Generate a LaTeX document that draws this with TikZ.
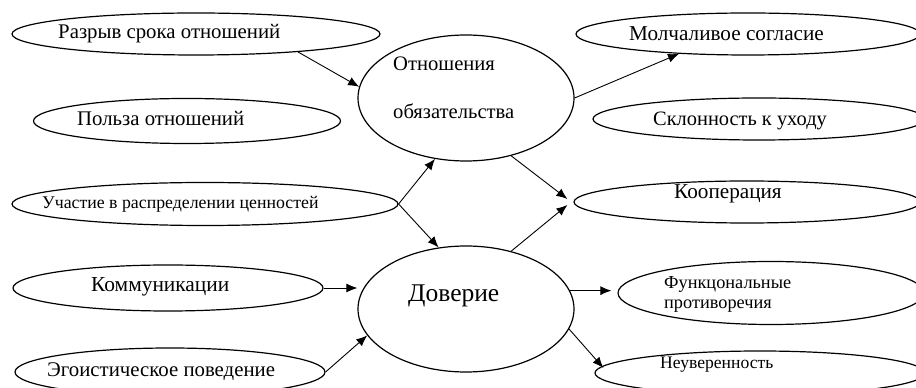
\documentclass[tikz,border=0pt]{standalone}
\usepackage{fontspec}
\setmainfont{Liberation Serif}
\usetikzlibrary{shapes.geometric,arrows.meta,calc}
\tikzset{
  oval/.style={draw, ellipse, line width=1.2pt, inner sep=0pt},
  lbl/.style={anchor=west, inner sep=0pt, text depth=0pt, text height=1.4ex},
  arr/.style={line width=0.9pt, -{Latex[length=11pt,width=9pt]}},
}
\newcommand{\fs}[1]{\fontsize{#1}{#1}\selectfont}
\begin{document}
\begin{tikzpicture}[x=1pt,y=1pt]
\useasboundingbox (0,0) rectangle (916,388);
% ellipses
\node[oval, minimum width=368, minimum height=42] (raz) at (196,354) {};
\node[oval, minimum width=307, minimum height=45] (pol) at (187,267) {};
\node[oval, minimum width=386, minimum height=43] (uch) at (205,184) {};
\node[oval, minimum width=310, minimum height=46] (kom) at (168,100) {};
\node[oval, minimum width=310, minimum height=48] (ego) at (170,16) {};
\node[oval, minimum width=216, minimum height=126] (obl) at (466,290) {};
\node[oval, minimum width=216, minimum height=126] (dov) at (466,79) {};
\node[oval, minimum width=344, minimum height=42] (mol) at (748,354) {};
\node[oval, minimum width=332, minimum height=42] (skl) at (759,269) {};
\node[oval, minimum width=346, minimum height=42] (koo) at (747,186) {};
\node[oval, minimum width=306, minimum height=63] (fun) at (771,95) {};
\node[oval, minimum width=330, minimum height=44] (neu) at (760,15) {};
% labels
\node[lbl, font=\fs{20.8}] (traz) at (58,353) {Разрыв срока отношений};
\node[lbl, font=\fs{20.8}] (tpol) at (77,266) {Польза отношений};
\node[lbl, font=\fs{17.8}] (tuch) at (42,183) {Участие в распределении ценностей};
\node[lbl, font=\fs{21.4}] (tkom) at (91,100) {Коммуникации};
\node[lbl, font=\fs{20.8}] (tego) at (47,15) {Эгоистическое поведение};
\node[lbl, font=\fs{20.6}] (tobl1) at (393,321) {Отношения};
\node[lbl, font=\fs{20.6}] (tobl2) at (393,273) {обязательства};
\node[lbl, font=\fs{25.5}] (tdov) at (408,90) {Доверие};
\node[lbl, font=\fs{21.2}] (tmol) at (629,351) {Молчаливое согласие};
\node[lbl, font=\fs{20.4}] (tskl) at (653,266) {Склонность к уходу};
\node[lbl, font=\fs{21.2}] (tkoo) at (674,193) {Кооперация};
\node[lbl, font=\fs{18.3}] (tfun1) at (664,103) {Функцональные};
\node[lbl, font=\fs{18.3}] (tfun2) at (664,83) {противоречия};
\node[lbl, font=\fs{17.6}] (tneu) at (660,23) {Неуверенность};
% connectors
\draw[arr] (raz.-10.7) -- (obl.174.8);
\draw[arr] (obl.0.5) -- (mol.196);
\draw[arr] (uch.east) -- (obl.243.8);
\draw[arr] (uch.east) -- (dov.114);
\draw[arr] (obl.-52) -- ($(koo.west)+(-6,3)$);
\draw[arr] (dov.52.6) -- ($(koo.west)+(-6,-3)$);
\draw[arr] (kom.east) -- (kom.east -| dov.west);
\draw[arr] (ego.east) -- (dov.195);
\draw[arr, shorten >=6pt] (dov.10) -- (dov.10 -| fun.west);
\draw[arr] (dov.-11) -- ($(neu.west)+(9,5)$);
\end{tikzpicture}
\end{document}
